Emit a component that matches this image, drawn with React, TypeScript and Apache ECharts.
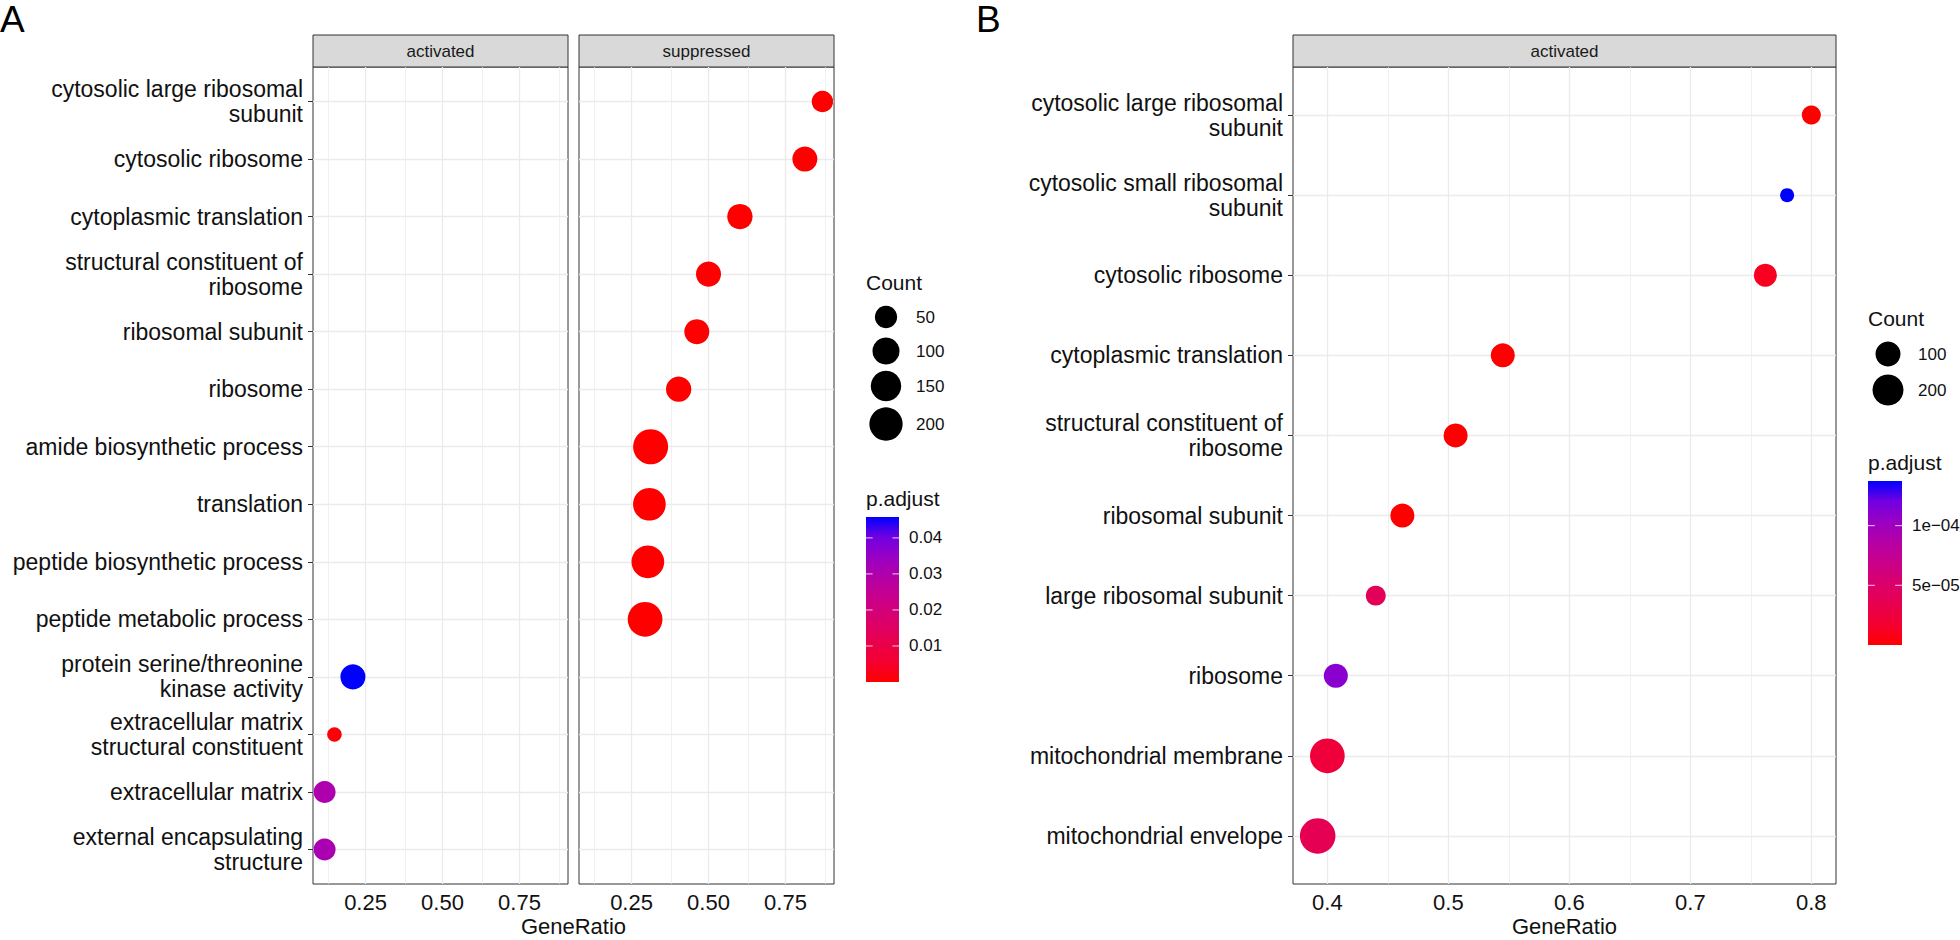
import React, { useEffect, useRef } from "react";
import * as echarts from "echarts";

// ---------------- data ----------------
const termsA = [
  "cytosolic large ribosomal\nsubunit",
  "cytosolic ribosome",
  "cytoplasmic translation",
  "structural constituent of\nribosome",
  "ribosomal subunit",
  "ribosome",
  "amide biosynthetic process",
  "translation",
  "peptide biosynthetic process",
  "peptide metabolic process",
  "protein serine/threonine\nkinase activity",
  "extracellular matrix\nstructural constituent",
  "extracellular matrix",
  "external encapsulating\nstructure",
];

const actTerms = [
  "protein serine/threonine\nkinase activity",
  "extracellular matrix\nstructural constituent",
  "extracellular matrix",
  "external encapsulating\nstructure",
];
const actRatio = [0.209, 0.149, 0.117, 0.117];
const actCount = [76, 19, 48, 48];
const actPadj = [0.0458, 0.0012, 0.0302, 0.031];

const supTerms = [
  "cytosolic large ribosomal\nsubunit",
  "cytosolic ribosome",
  "cytoplasmic translation",
  "structural constituent of\nribosome",
  "ribosomal subunit",
  "ribosome",
  "amide biosynthetic process",
  "translation",
  "peptide biosynthetic process",
  "peptide metabolic process",
];
const supRatio = [0.87, 0.813, 0.602, 0.5, 0.462, 0.403, 0.312, 0.308, 0.303, 0.294];
const supCount = [44, 76, 80, 76, 76, 79, 235, 189, 189, 229];
const supPadj = [2.1e-9, 3.5e-10, 1.2e-12, 4.0e-11, 6.3e-10, 1.4e-9, 2.2e-13, 3.1e-13, 3.0e-13, 4.5e-13];

const termsB = [
  "cytosolic large ribosomal\nsubunit",
  "cytosolic small ribosomal\nsubunit",
  "cytosolic ribosome",
  "cytoplasmic translation",
  "structural constituent of\nribosome",
  "ribosomal subunit",
  "large ribosomal subunit",
  "ribosome",
  "mitochondrial membrane",
  "mitochondrial envelope",
];
const ratioB = [0.8, 0.78, 0.762, 0.545, 0.506, 0.462, 0.44, 0.407, 0.4, 0.392];
const countB = [43, 28, 76, 88, 88, 88, 49, 88, 283, 303];
const padjB = [1.0e-9, 1.374e-4, 1.1e-5, 2e-9, 3e-9, 4e-9, 4.0e-5, 1.1e-4, 2.3e-5, 3.7e-5];

const xBreaksA = [0.25, 0.5, 0.75];
const xMinorA = [0.125, 0.375, 0.625, 0.875];
const xBreaksB = [0.4, 0.5, 0.6, 0.7, 0.8];
const xMinorB = [0.45, 0.55, 0.65, 0.75];

const countBreaksA = [50, 100, 150, 200];
const countBreaksB = [100, 200];
const pBreaksA = [0.01, 0.02, 0.03, 0.04];
const pLabelsA = ["0.01", "0.02", "0.03", "0.04"];
const pBreaksB = [5e-5, 1e-4];
const pLabelsB = ["5e\u221205", "1e\u221204"];

const pColors = ["#FF0000", "#F40031", "#E8004F", "#DA006C", "#CA0089", "#B500A5", "#9A00C3", "#7300E0", "#0000FF"];

// ---------------- helpers ----------------
const FONT = '"Liberation Sans", Arial, Helvetica, sans-serif';
const TXT = "#111111";

function expandRange(vals: number[]) {
  const lo = Math.min(...vals);
  const hi = Math.max(...vals);
  const d = (hi - lo) * 0.05;
  return [lo - d, hi + d];
}
function sizeScale(counts: number[], dmin: number, dmax: number) {
  const cmin = Math.min(...counts);
  const cmax = Math.max(...counts);
  return (c: number) => dmin + (dmax - dmin) * Math.sqrt(Math.max(0, (c - cmin) / (cmax - cmin)));
}

const TOP = 67;
const BOTTOM = 884;
const PA1 = { l: 313, r: 568 };
const PA2 = { l: 579, r: 834 };
const PB = { l: 1293, r: 1836 };

export default function App() {
  const ref = useRef<HTMLDivElement>(null);
  useEffect(() => {
    document.body.style.margin = "0";
    const chart = echarts.init(ref.current!, null, { renderer: "svg" });

    const [xMinA, xMaxA] = expandRange([...actRatio, ...supRatio]);
    const [xMinB, xMaxB] = expandRange(ratioB);
    const sizeA = sizeScale([...actCount, ...supCount], 14.5, 35);
    const sizeB = sizeScale(countB, 14, 35.5);
    const allPA = [...actPadj, ...supPadj];
    const pMinA = Math.min(...allPA), pMaxA = Math.max(...allPA);
    const pMinB = Math.min(...padjB), pMaxB = Math.max(...padjB);

    const nA = termsA.length, nB = termsB.length;
    const idxA = termsA.map((_, i) => i);
    const idxB = termsB.map((_, i) => i);

    const grid = (p: { l: number; r: number }) => ({
      left: p.l, top: TOP, width: p.r - p.l, height: BOTTOM - TOP,
      show: true, borderColor: "#333333", borderWidth: 1, backgroundColor: "transparent",
    });

    const xAxis = (gi: number, min: number, max: number, breaks: number[], digits: number) => ({
      gridIndex: gi, type: "value", min, max,
      splitLine: { show: false }, axisLine: { show: false },
      axisTick: { show: true, customValues: breaks, length: 4, lineStyle: { color: "#333333", width: 1 } },
      axisLabel: {
        customValues: breaks, formatter: (v: number) => v.toFixed(digits),
        fontSize: 22, color: TXT, fontFamily: FONT, margin: 7,
      },
    });
    const yAxis = (gi: number, n: number, labels: string[] | null, idx: number[]) => ({
      gridIndex: gi, type: "value", inverse: true, min: -0.6, max: n - 1 + 0.6,
      splitLine: { show: false }, axisLine: { show: false },
      axisTick: { show: !!labels, customValues: idx, length: 5, lineStyle: { color: "#333333", width: 1 } },
      axisLabel: labels
        ? {
            customValues: idx, formatter: (v: number) => labels[Math.round(v)],
            fontSize: 23, lineHeight: 25, color: TXT, fontFamily: FONT, margin: 10, align: "right",
          }
        : { show: false },
    });

    const gridLines = (gi: number, major: number[], minor: number[], idx: number[]) => ({
      type: "scatter", xAxisIndex: gi, yAxisIndex: gi, data: [], silent: true, z: 1,
      markLine: {
        silent: true, symbol: ["none", "none"], animation: false, z: 1,
        label: { show: false }, emphasis: { disabled: true },
        data: [
          ...minor.map((v) => ({ xAxis: v, lineStyle: { color: "#EBEBEB", width: 0.7, type: "solid" } })),
          ...major.map((v) => ({ xAxis: v, lineStyle: { color: "#EBEBEB", width: 1.3, type: "solid" } })),
          ...idx.map((v) => ({ yAxis: v, lineStyle: { color: "#EBEBEB", width: 1.3, type: "solid" } })),
        ],
      },
    });

    const pointSeries = (gi: number, data: number[][], sz: (c: number) => number) => ({
      type: "scatter", xAxisIndex: gi, yAxisIndex: gi, z: 10, data,
      symbol: "circle", symbolSize: (v: number[]) => sz(v[2]),
      itemStyle: { opacity: 1 }, emphasis: { disabled: true },
    });

    const actData = actTerms.map((t, i) => [actRatio[i], termsA.indexOf(t), actCount[i], actPadj[i]]);
    const supData = supTerms.map((t, i) => [supRatio[i], termsA.indexOf(t), supCount[i], supPadj[i]]);
    const bData = termsB.map((t, i) => [ratioB[i], i, countB[i], padjB[i]]);

    const txt = (x: number, y: number, text: string, size: number, align = "left", extra: any = {}) => ({
      type: "text", x, y, silent: true,
      style: { text, fill: TXT, fontSize: size, fontFamily: FONT, align, verticalAlign: "middle", ...extra },
    });

    const strip = (p: { l: number; r: number }, label: string) => [
      { type: "rect", shape: { x: p.l, y: 35, width: p.r - p.l, height: TOP - 35 }, style: { fill: "#D9D9D9", stroke: "#333333", lineWidth: 1 }, silent: true },
      txt((p.l + p.r) / 2, 51.5, label, 17, "center", { fill: "#1A1A1A" }),
    ];

    const stops = pColors.map((c, i) => ({ offset: 1 - i / (pColors.length - 1), color: c })).reverse();

    const legend = (
      lx: number, countY: number, circleYs: number[], breaks: number[], sz: (c: number) => number,
      pTitleY: number, bar: { y: number; w: number; h: number }, pBreaks: number[], pLabels: string[],
      pMin: number, pMax: number
    ) => {
      const els: any[] = [];
      els.push(txt(lx, countY, "Count", 21));
      breaks.forEach((b, i) => {
        els.push({ type: "circle", shape: { cx: lx + 20, cy: circleYs[i], r: sz(b) / 2 }, style: { fill: "#000000" }, silent: true });
        els.push(txt(lx + 50, circleYs[i], String(b), 17));
      });
      els.push(txt(lx, pTitleY, "p.adjust", 21));
      els.push({
        type: "rect", silent: true, shape: { x: lx, y: bar.y, width: bar.w, height: bar.h },
        style: { fill: new echarts.graphic.LinearGradient(0, 0, 0, 1, stops) },
      });
      pBreaks.forEach((v, i) => {
        const y = bar.y + bar.h - ((v - pMin) / (pMax - pMin)) * bar.h;
        els.push({ type: "line", silent: true, shape: { x1: lx, y1: y, x2: lx + bar.w / 5, y2: y }, style: { stroke: "#FFFFFF", lineWidth: 1, opacity: 0.8 } });
        els.push({ type: "line", silent: true, shape: { x1: lx + bar.w - bar.w / 5, y1: y, x2: lx + bar.w, y2: y }, style: { stroke: "#FFFFFF", lineWidth: 1, opacity: 0.8 } });
        els.push(txt(lx + bar.w + 10, y, pLabels[i], 17));
      });
      return els;
    };

    const graphic = [
      txt(0, 19, "A", 37, "left", { fill: "#000000" }),
      txt(976, 19, "B", 37, "left", { fill: "#000000" }),
      ...strip(PA1, "activated"),
      ...strip(PA2, "suppressed"),
      ...strip(PB, "activated"),
      txt((PA1.l + PA2.r) / 2, 926, "GeneRatio", 22, "center"),
      txt((PB.l + PB.r) / 2, 926, "GeneRatio", 22, "center"),
      ...legend(866, 282, [317, 351, 386, 424], countBreaksA, sizeA, 498, { y: 517, w: 33, h: 165 }, pBreaksA, pLabelsA, pMinA, pMaxA),
      ...legend(1868, 318, [354, 390], countBreaksB, sizeB, 462, { y: 481, w: 34, h: 164 }, pBreaksB, pLabelsB, pMinB, pMaxB),
    ];

    chart.setOption({
      animation: false,
      backgroundColor: "#FFFFFF",
      textStyle: { fontFamily: FONT },
      grid: [grid(PA1), grid(PA2), grid(PB)],
      xAxis: [
        xAxis(0, xMinA, xMaxA, xBreaksA, 2),
        xAxis(1, xMinA, xMaxA, xBreaksA, 2),
        xAxis(2, xMinB, xMaxB, xBreaksB, 1),
      ],
      yAxis: [yAxis(0, nA, termsA, idxA), yAxis(1, nA, null, idxA), yAxis(2, nB, termsB, idxB)],
      visualMap: [
        { type: "continuous", show: false, seriesIndex: [3, 4], dimension: 3, min: pMinA, max: pMaxA, inRange: { color: pColors } },
        { type: "continuous", show: false, seriesIndex: [5], dimension: 3, min: pMinB, max: pMaxB, inRange: { color: pColors } },
      ],
      series: [
        gridLines(0, xBreaksA, xMinorA, idxA),
        gridLines(1, xBreaksA, xMinorA, idxA),
        gridLines(2, xBreaksB, xMinorB, idxB),
        pointSeries(0, actData, sizeA),
        pointSeries(1, supData, sizeA),
        pointSeries(2, bData, sizeB),
      ],
      graphic,
    });
    return () => chart.dispose();
  }, []);
  return <div ref={ref} style={{ width: 1960, height: 940 }} />;
}
